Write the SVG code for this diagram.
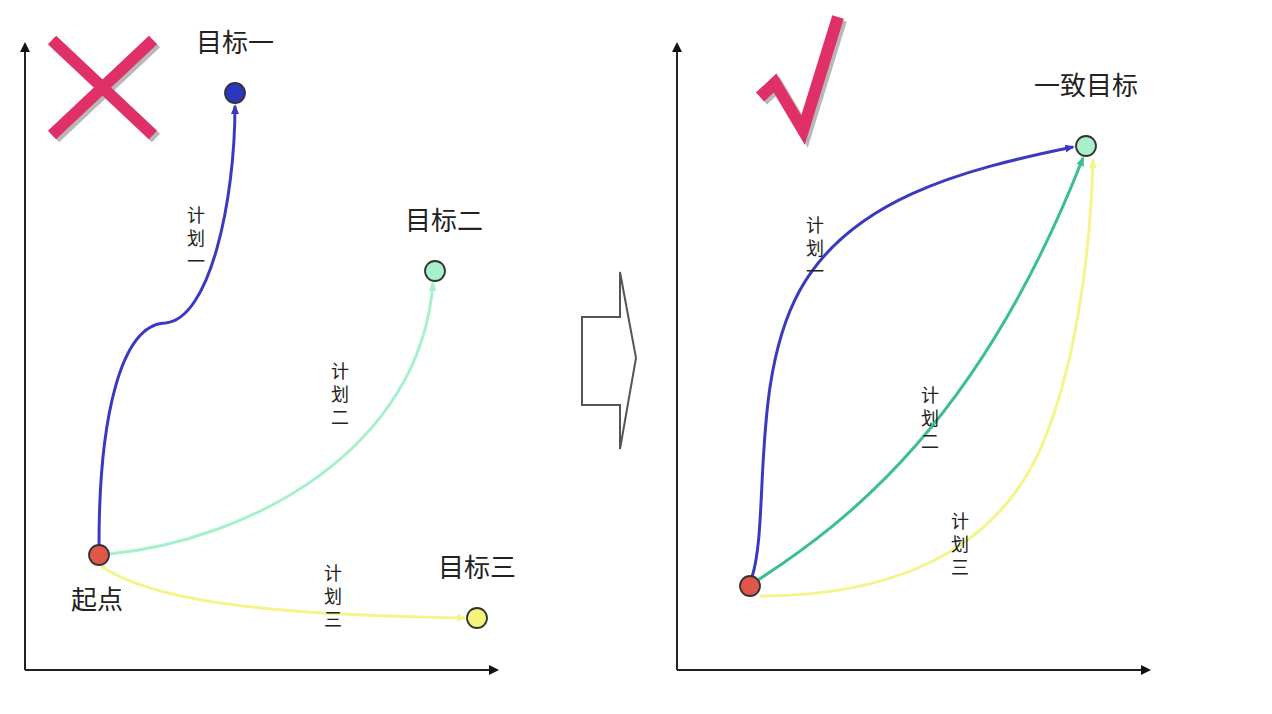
<svg xmlns="http://www.w3.org/2000/svg" width="1272" height="714" viewBox="0 0 1272 714">
<style>
.axis{stroke:#222;stroke-width:2;fill:none}
.lbl{font-family:"Noto Sans CJK SC","Noto Sans",sans-serif;font-size:26px;fill:#222}
.plan{font-family:"Noto Sans CJK SC","Noto Sans",sans-serif;font-size:18px;fill:#222;text-anchor:middle}
.node{stroke:#333;stroke-width:1.8}
.mark{stroke:#e03068;stroke-width:12;fill:none;stroke-linecap:butt}
.shadow{stroke:#b8b8b8;stroke-width:12;fill:none}
</style>
<defs>
<marker id="ak" markerWidth="10" markerHeight="10" refX="8" refY="5" orient="auto" markerUnits="userSpaceOnUse"><path d="M0,0 L10,5 L0,10 z" fill="#111"/></marker>
<marker id="ab" markerWidth="10" markerHeight="10" refX="8" refY="5" orient="auto" markerUnits="userSpaceOnUse"><path d="M0,1 L10,5 L0,9 z" fill="#3a3ac0"/></marker>
<marker id="ag" markerWidth="10" markerHeight="10" refX="8" refY="5" orient="auto" markerUnits="userSpaceOnUse"><path d="M0,1 L10,5 L0,9 z" fill="#a6f0cc"/></marker>
<marker id="at" markerWidth="10" markerHeight="10" refX="8" refY="5" orient="auto" markerUnits="userSpaceOnUse"><path d="M0,1 L10,5 L0,9 z" fill="#3cbf8e"/></marker>
<marker id="ay" markerWidth="10" markerHeight="10" refX="8" refY="5" orient="auto" markerUnits="userSpaceOnUse"><path d="M0,1 L10,5 L0,9 z" fill="#f4f48a"/></marker>
</defs>

<g id="axes">
<line class="axis" x1="25" y1="670" x2="25" y2="44" marker-end="url(#ak)"/>
<line class="axis" x1="25" y1="670" x2="497" y2="670" marker-end="url(#ak)"/>
<line class="axis" x1="677" y1="670" x2="677" y2="44" marker-end="url(#ak)"/>
<line class="axis" x1="677" y1="670" x2="1149" y2="670" marker-end="url(#ak)"/>
</g>

<g id="cross">
<line class="shadow" x1="55" y1="43" x2="156" y2="138"/>
<line class="shadow" x1="55" y1="138" x2="156" y2="43"/>
<line class="mark" x1="52" y1="40" x2="153" y2="135"/>
<line class="mark" x1="52" y1="135" x2="153" y2="40"/>
</g>

<g id="check">
<polyline class="shadow" points="763,100 778,86 806,133 841,20"/>
<polyline class="mark" points="760,97 775,83 803,130 838,17" stroke-linejoin="miter"/>
</g>

<g id="big-arrow">
<polygon points="582,317 620,317 620,272 636,358 620,449 620,405 582,405" fill="#fff" stroke="#555" stroke-width="2"/>
</g>

<g id="connectors" fill="none" stroke-width="3">
<path d="M99,545 C99,420 120,325 165,323 C210,320 235,200 235,106" stroke="#3a3ac0" marker-end="url(#ab)"/>
<path d="M109,554 C250,540 420,450 433,283" stroke="#a6f0cc" marker-end="url(#ag)"/>
<path d="M101,566 C150,600 260,615 465,618" stroke="#f4f48a" marker-end="url(#ay)"/>
<path d="M752,577 C770,520 750,380 800,290 C850,200 960,170 1073,147" stroke="#3a3ac0" marker-end="url(#ab)"/>
<path d="M758,580 C850,520 980,420 1083,158" stroke="#3cbf8e" marker-end="url(#at)"/>
<path d="M760,596 C880,596 990,560 1040,450 C1075,370 1090,260 1093,160" stroke="#f4f48a" marker-end="url(#ay)"/>
</g>

<g id="node-start-left">
<circle class="node" cx="99" cy="555" r="10" fill="#e0574a"/>
<text class="lbl" x="71" y="609">起点</text>
</g>
<g id="node-goal1">
<circle class="node" cx="235" cy="93" r="10" fill="#2a35c0"/>
<text class="lbl" x="196" y="52">目标一</text>
</g>
<g id="node-goal2">
<circle class="node" cx="435" cy="271" r="10" fill="#a6f0cc"/>
<text class="lbl" x="405" y="230">目标二</text>
</g>
<g id="node-goal3">
<circle class="node" cx="477" cy="618" r="10" fill="#f4f47a"/>
<text class="lbl" x="438" y="577">目标三</text>
</g>
<g id="node-start-right">
<circle class="node" cx="750" cy="586" r="10" fill="#e0574a"/>
</g>
<g id="node-common-goal">
<circle class="node" cx="1086" cy="146" r="10" fill="#a6f0cc"/>
<text class="lbl" x="1034" y="95">一致目标</text>
</g>

<g id="plan-labels">
<text class="plan" x="196" y="222"><tspan x="196">计</tspan><tspan x="196" dy="23">划</tspan><tspan x="196" dy="23">一</tspan></text>
<text class="plan" x="340" y="378"><tspan x="340">计</tspan><tspan x="340" dy="23">划</tspan><tspan x="340" dy="23">二</tspan></text>
<text class="plan" x="333" y="580"><tspan x="333">计</tspan><tspan x="333" dy="23">划</tspan><tspan x="333" dy="23">三</tspan></text>
<text class="plan" x="815" y="232"><tspan x="815">计</tspan><tspan x="815" dy="23">划</tspan><tspan x="815" dy="23">一</tspan></text>
<text class="plan" x="930" y="402"><tspan x="930">计</tspan><tspan x="930" dy="23">划</tspan><tspan x="930" dy="23">二</tspan></text>
<text class="plan" x="960" y="528"><tspan x="960">计</tspan><tspan x="960" dy="23">划</tspan><tspan x="960" dy="23">三</tspan></text>
</g>
</svg>
